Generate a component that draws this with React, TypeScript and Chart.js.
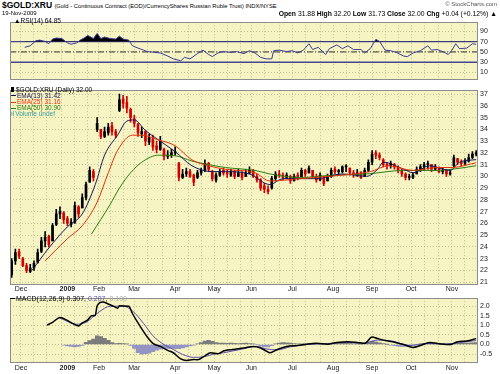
import React, { useEffect, useRef } from 'react';
import { Chart, registerables } from 'chart.js';

Chart.register(...registerables);

const FONT = '"Liberation Sans", Arial, sans-serif';
const PANEL_BG = '#f7f4c4';
const GRID = 'rgba(150,150,110,0.55)';
const X_MIN = -5.9;
const X_MAX = 246;

// trading-day index (0 = 1 Dec 2008)
const monthTickDay = [0, 25, 42, 61, 83, 104, 124, 146, 168, 189, 210, 232];
const monthLabels = ['Dec', '2009', 'Feb', 'Mar', 'Apr', 'May', 'Jun', 'Jul', 'Aug', 'Sep', 'Oct', 'Nov'];
const gridDay = [0, 7, 14, 22, 29, 36, 42, 48, 55, 61, 68, 76, 83, 90, 97, 104, 111, 118, 124, 131, 139, 146, 153, 161, 168, 175, 182, 189, 196, 203, 210, 217, 225, 232, 239];

// price candles
const candleDay = [-5, -3, -1, 1, 3, 5, 7, 9, 11, 13, 15, 17, 19, 21, 23, 25, 27, 29, 31, 33, 35, 37, 39, 41, 43, 45, 47, 49, 51, 53, 55, 57, 59, 61, 63, 65, 67, 69, 71, 73, 75, 77, 79, 81, 83, 85, 87, 89, 91, 93, 95, 97, 99, 101, 103, 105, 107, 109, 111, 113, 115, 117, 119, 121, 123, 125, 127, 129, 131, 133, 135, 137, 139, 141, 143, 145, 147, 149, 151, 153, 155, 157, 159, 161, 163, 165, 167, 169, 171, 173, 175, 177, 179, 181, 183, 185, 187, 189, 191, 193, 195, 197, 199, 201, 203, 205, 207, 209, 211, 213, 215, 217, 219, 221, 223, 225, 227, 229, 231, 233, 235, 237, 239, 241, 243, 245];
const openVal = [21.6, 22.8, 23.6, 23.0, 22.4, 21.9, 22.2, 22.7, 23.6, 24.5, 24.9, 24.5, 25.9, 26.8, 26.9, 26.4, 25.9, 26.1, 27.4, 27.3, 28.2, 29.5, 30.4, 34.0, 34.0, 33.4, 33.7, 34.3, 33.8, 35.6, 36.6, 36.3, 35.7, 34.9, 34.4, 33.6, 33.8, 32.9, 33.2, 32.6, 32.3, 32.3, 31.7, 31.8, 32.0, 31.1, 29.9, 30.2, 30.4, 30.1, 29.9, 30.3, 30.5, 31.1, 30.4, 29.7, 30.1, 30.5, 30.3, 30.1, 30.4, 30.0, 30.3, 30.0, 30.3, 30.5, 30.0, 29.7, 29.2, 28.9, 29.0, 29.8, 30.2, 30.1, 29.9, 30.0, 29.6, 30.1, 29.9, 30.5, 30.3, 30.5, 30.0, 29.7, 29.9, 29.6, 30.0, 30.6, 30.4, 30.4, 30.8, 30.7, 30.3, 30.1, 30.3, 30.0, 30.5, 31.2, 32.0, 31.8, 31.4, 31.0, 30.9, 31.0, 30.8, 30.5, 30.2, 29.9, 29.9, 30.2, 30.6, 30.8, 31.0, 31.0, 30.6, 30.7, 30.4, 30.5, 30.2, 30.9, 31.5, 31.2, 31.1, 31.3, 31.6, 31.88];
const highVal = [23.0, 23.8, 23.8, 23.1, 22.6, 22.5, 22.8, 23.8, 24.8, 25.3, 25.0, 26.0, 27.2, 27.4, 27.0, 26.6, 26.4, 27.8, 27.5, 28.5, 29.5, 30.8, 30.6, 35.0, 34.0, 34.2, 34.5, 34.6, 34.0, 37.0, 36.9, 36.8, 35.8, 35.2, 34.5, 34.2, 33.9, 33.6, 33.5, 33.0, 33.4, 32.4, 32.2, 32.3, 32.5, 31.2, 30.6, 30.7, 30.6, 30.2, 30.5, 30.7, 31.4, 31.2, 30.5, 30.3, 30.6, 30.7, 30.5, 30.6, 30.5, 30.6, 30.4, 30.6, 30.8, 30.6, 30.2, 29.8, 29.4, 29.2, 30.0, 30.4, 30.5, 30.3, 30.3, 30.1, 30.2, 30.3, 30.7, 30.6, 30.9, 30.5, 30.2, 30.3, 30.0, 30.2, 30.7, 30.8, 30.6, 30.9, 31.0, 30.7, 30.5, 30.6, 30.4, 30.7, 31.4, 32.2, 32.2, 32.0, 31.5, 31.2, 31.3, 31.1, 30.9, 30.6, 30.3, 30.2, 30.3, 30.8, 31.0, 31.2, 31.3, 31.0, 31.0, 30.8, 30.7, 30.6, 30.6, 31.8, 31.5, 31.4, 31.5, 31.9, 32.1, 32.2];
const lowVal = [21.4, 22.5, 23.0, 22.3, 21.8, 21.8, 22.0, 22.6, 23.5, 24.0, 24.0, 24.5, 25.8, 26.4, 26.0, 25.8, 25.7, 26.0, 26.5, 27.3, 28.0, 29.5, 29.6, 33.8, 33.2, 33.3, 33.5, 33.5, 33.3, 35.5, 35.8, 35.4, 34.6, 34.2, 33.4, 33.3, 32.6, 32.7, 32.2, 32.0, 32.2, 31.4, 31.5, 31.6, 31.8, 29.6, 29.8, 30.0, 29.9, 29.2, 29.8, 30.1, 30.4, 30.4, 29.6, 29.5, 30.0, 30.1, 29.9, 30.0, 29.8, 30.0, 29.7, 30.0, 30.2, 29.9, 29.5, 28.8, 28.6, 28.5, 28.9, 29.6, 29.9, 29.7, 29.8, 29.4, 29.6, 29.7, 29.9, 30.0, 30.3, 29.9, 29.5, 29.6, 29.2, 29.6, 29.9, 30.2, 30.2, 30.3, 30.4, 30.1, 29.9, 30.0, 29.8, 30.0, 30.4, 31.0, 31.5, 31.4, 30.8, 30.6, 30.7, 30.6, 30.3, 30.0, 29.7, 29.7, 29.8, 30.2, 30.4, 30.5, 30.6, 30.4, 30.5, 30.3, 30.2, 30.0, 30.1, 30.8, 31.0, 30.9, 31.0, 31.2, 31.5, 31.73];
const closeVal = [22.8, 23.5, 23.2, 22.4, 22.0, 22.2, 22.6, 23.5, 24.5, 24.8, 24.2, 25.8, 26.8, 27.0, 26.3, 26.0, 26.1, 27.5, 26.8, 28.2, 29.3, 30.5, 29.9, 34.5, 33.4, 33.8, 34.2, 33.8, 33.5, 36.5, 36.2, 35.8, 35.0, 34.5, 33.7, 33.8, 33.0, 33.3, 32.5, 32.3, 33.0, 31.7, 31.8, 32.0, 32.1, 29.9, 30.2, 30.4, 30.0, 29.5, 30.3, 30.5, 31.1, 30.6, 29.8, 30.1, 30.4, 30.3, 30.2, 30.4, 30.0, 30.3, 29.9, 30.3, 30.5, 30.0, 29.7, 29.0, 28.9, 28.7, 29.8, 30.2, 30.1, 29.9, 30.1, 29.6, 30.0, 29.9, 30.5, 30.2, 30.7, 30.0, 29.7, 30.1, 29.4, 30.0, 30.5, 30.4, 30.4, 30.8, 30.8, 30.3, 30.2, 30.3, 29.9, 30.5, 31.2, 31.9, 31.8, 31.6, 31.0, 30.9, 31.1, 30.8, 30.5, 30.2, 29.9, 30.0, 30.1, 30.6, 30.8, 31.0, 31.1, 30.6, 30.8, 30.4, 30.5, 30.2, 30.3, 31.6, 31.2, 31.1, 31.3, 31.6, 31.9, 32.0];

// moving averages
const ema13Day = [6, 15, 25, 33, 40, 45, 52, 57, 61, 67, 74, 83, 92, 103, 110, 123, 134, 141, 159, 173, 186, 192, 195, 206, 211, 220, 231, 236, 245];
const ema13Val = [22.0, 23.9, 25.7, 26.8, 29.3, 31.8, 33.5, 34.7, 34.8, 33.9, 33.1, 32.1, 30.9, 30.4, 30.4, 30.2, 29.3, 29.8, 29.8, 30.2, 30.0, 30.6, 31.2, 30.6, 30.3, 30.9, 30.5, 31.2, 31.42];
const ema25Day = [13, 25, 33, 41, 47, 52, 60, 65, 74, 83, 92, 101, 110, 126, 134, 150, 173, 188, 198, 211, 224, 232, 245];
const ema25Val = [22.8, 24.7, 25.8, 27.8, 30.3, 32.2, 33.5, 33.5, 33.1, 32.6, 31.4, 30.9, 30.6, 30.3, 29.6, 29.8, 30.1, 30.4, 30.9, 30.5, 30.75, 30.75, 31.16];
const ema50Day = [38, 48, 53, 59, 65, 74, 83, 92, 101, 110, 126, 134, 150, 168, 186, 206, 224, 232, 245];
const ema50Val = [25.1, 27.6, 29.0, 30.3, 31.2, 31.8, 31.75, 31.3, 31.0, 30.75, 30.5, 30.2, 29.9, 30.1, 30.2, 30.5, 30.5, 30.6, 30.9];
const priceTicks = [21, 22, 23, 24, 25, 26, 27, 28, 29, 30, 31, 32, 33, 34, 35, 36, 37];

// RSI(14)
const rsiDay = [2, 5, 8, 10, 13, 15, 17, 19, 22, 25, 27, 30, 32, 34, 36, 39, 41, 43, 45, 48, 51, 53, 55, 58, 60, 63, 66, 68, 71, 75, 79, 82, 86, 88, 91, 95, 98, 101, 103, 106, 109, 113, 116, 120, 123, 126, 129, 132, 135, 136, 139, 143, 146, 149, 152, 155, 157, 160, 164, 166, 170, 173, 176, 179, 183, 185, 188, 191, 193, 196, 199, 202, 206, 208, 211, 215, 219, 221, 224, 227, 230, 232, 234, 236, 240, 243, 245];
const rsiVal = [59, 62, 71.7, 73, 70.5, 66, 75, 77, 76, 67.6, 65, 67.6, 73.4, 77, 82, 76, 86, 76, 79, 76, 75, 80.7, 75, 73, 62, 57.5, 53.5, 50.7, 49.7, 48, 42, 36.6, 32.7, 39.5, 36.6, 46.8, 53.5, 45, 41, 48, 50.7, 49, 50.7, 46.8, 52.4, 48, 39.5, 36.6, 36.6, 52.4, 53.5, 50.7, 52.4, 48, 53.5, 66, 54.7, 59, 45, 56.4, 63.7, 56.4, 62, 54.7, 54.7, 48, 56.4, 74.4, 70.5, 53.5, 52.4, 49, 42, 41, 48, 52.4, 62, 53.5, 54.7, 50.7, 45, 53.5, 66, 56.4, 57.5, 66, 64.85];
const rsiTicks = [10, 30, 50, 70, 90];
const rsiLevels = [70, 50, 30];

// MACD(12,26,9)
const macdDay = [14, 17, 21, 25, 28, 31, 33, 36, 38, 40, 41, 44, 47, 50, 52, 53, 58, 60, 64, 68, 71, 75, 79, 82, 86, 89, 93, 95, 99, 102, 106, 109, 114, 120, 125, 129, 132, 134, 138, 143, 149, 154, 159, 165, 170, 176, 181, 185, 189, 192, 195, 200, 206, 211, 215, 220, 226, 231, 235, 240, 245];
const macdVal = [1.01, 1.16, 1.41, 1.26, 1.09, 0.97, 1.13, 1.29, 1.5, 1.53, 2.02, 2.22, 2.12, 1.99, 1.9, 2.02, 2.0, 1.62, 0.97, 0.39, 0.06, -0.1, -0.31, -0.43, -0.75, -0.83, -0.78, -0.8, -0.59, -0.43, -0.48, -0.34, -0.26, -0.18, -0.1, -0.18, -0.34, -0.43, -0.26, -0.1, -0.05, 0.02, 0.06, 0.02, 0.11, 0.15, 0.11, 0.06, 0.39, 0.31, 0.23, 0.15, 0, -0.15, -0.05, 0.1, 0.03, 0, 0.15, 0.18, 0.307];
const signalDay = [21, 30, 35, 42, 48, 55, 60, 66, 71, 76, 82, 87, 93, 98, 103, 109, 118, 127, 132, 138, 145, 154, 165, 175, 184, 192, 200, 209, 218, 229, 236, 245];
const signalVal = [1.38, 1.06, 1.16, 1.7, 2.0, 2.0, 1.76, 1.1, 0.46, 0.06, -0.26, -0.52, -0.67, -0.65, -0.52, -0.43, -0.26, -0.1, -0.23, -0.28, -0.12, 0, 0.05, 0.11, 0.06, 0.23, 0.18, -0.05, 0.05, 0.03, 0.1, 0.207];
const histDay = [23, 25, 27, 29, 31, 33, 35, 37, 39, 41, 43, 45, 47, 49, 51, 53, 55, 57, 59, 61, 63, 65, 67, 69, 71, 73, 75, 77, 79, 81, 83, 85, 87, 89, 91, 93, 95, 97, 99, 101, 103, 105, 107, 109, 111, 113, 115, 117, 119, 121, 123, 125, 127, 129, 131, 133, 135, 137, 139, 141, 143, 145, 147, 149, 151, 153, 155, 157, 159, 161, 163, 165, 167, 169, 171, 173, 175, 177, 179, 181, 183, 185, 187, 189, 191, 193, 195, 197, 199, 201, 203, 205, 207, 209, 211, 213, 215, 217, 219, 221, 223, 225, 227, 229, 231, 233, 235, 237, 239, 241, 243, 245];
const histVal = [-0.03, -0.08, -0.1, -0.12, -0.1, -0.05, 0.12, 0.2, 0.28, 0.45, 0.42, 0.32, 0.22, 0.1, 0.05, 0.06, 0.05, 0.03, -0.05, -0.2, -0.42, -0.5, -0.48, -0.45, -0.38, -0.3, -0.24, -0.21, -0.2, -0.2, -0.22, -0.22, -0.18, -0.12, -0.08, -0.04, 0.04, 0.1, 0.18, 0.22, 0.16, 0.1, 0.07, 0.08, 0.06, 0.07, 0.06, 0.05, 0.06, 0.07, 0.05, 0.03, -0.02, -0.08, -0.11, -0.12, -0.06, 0.03, 0.08, 0.1, 0.09, 0.07, 0.05, 0.04, 0.03, 0.04, 0.05, 0.04, 0.03, 0.03, 0.02, 0.03, 0.05, 0.06, 0.07, 0.07, 0.06, 0.05, 0.04, 0.03, 0.02, 0.05, 0.12, 0.16, 0.13, 0.09, 0.05, 0.01, -0.03, -0.06, -0.09, -0.1, -0.1, -0.08, -0.05, -0.02, 0.02, 0.05, 0.06, 0.05, 0.04, 0.03, 0.02, 0, -0.02, 0.03, 0.06, 0.07, 0.08, 0.08, 0.09, 0.1];
const macdTicks = [-0.5, 0, 0.5, 1, 1.5, 2];

const pts = (xs: number[], ys: number[]) => xs.map((x, i) => ({ x, y: ys[i] }));

const panelPlugin = {
  id: 'panel',
  beforeDraw(chart: any) {
    const { ctx, chartArea: a } = chart;
    ctx.save();
    ctx.fillStyle = PANEL_BG;
    ctx.fillRect(a.left, a.top, a.right - a.left, a.bottom - a.top);
    ctx.restore();
  },
  afterDraw(chart: any) {
    const { ctx, chartArea: a } = chart;
    ctx.save();
    ctx.strokeStyle = '#8c8c8c';
    ctx.lineWidth = 1;
    ctx.strokeRect(Math.round(a.left) + 0.5, Math.round(a.top) + 0.5, Math.round(a.right - a.left) - 1, Math.round(a.bottom - a.top) - 1);
    ctx.restore();
  },
};

function xScales(showLabels: boolean, h: number, pad: number) {
  return {
    x: {
      type: 'linear', min: X_MIN, max: X_MAX, offset: false, position: 'bottom',
      grid: { display: false, drawTicks: false, offset: false },
      border: { display: false },
      afterBuildTicks: (ax: any) => { ax.ticks = monthTickDay.map((v) => ({ value: v })); },
      afterFit: (ax: any) => { ax.height = h; },
      ticks: {
        display: showLabels, autoSkip: false, maxRotation: 0, minRotation: 0, padding: pad, color: '#1a1a1a',
        font: (c: any) => ({ family: FONT, size: 7, weight: c.tick && c.tick.value === 25 ? 'bold' : 'normal' }),
        callback: (v: number) => { const i = monthTickDay.indexOf(v); return i >= 0 ? monthLabels[i] : ''; },
      },
    },
    xg: {
      type: 'linear', min: X_MIN, max: X_MAX, offset: false, position: 'bottom',
      grid: { color: GRID, lineWidth: 1, drawTicks: false, offset: false },
      border: { display: false, dash: [1, 2] },
      afterBuildTicks: (ax: any) => { ax.ticks = gridDay.map((v) => ({ value: v })); },
      afterFit: (ax: any) => { ax.height = 0; },
      ticks: { display: false },
    },
  };
}

function yScale(min: number, max: number, ticks: number[], fmt: (v: number) => string) {
  return {
    position: 'right', min, max,
    grid: { color: GRID, lineWidth: 1, drawTicks: false },
    border: { display: false, dash: [1, 2] },
    afterBuildTicks: (ax: any) => { ax.ticks = ticks.map((v) => ({ value: v })); },
    afterFit: (ax: any) => { ax.width = 22; },
    ticks: { padding: 2, color: '#1a1a1a', font: { family: FONT, size: 7 }, callback: (v: number) => fmt(v) },
  };
}

const baseOptions = (scales: any) => ({
  responsive: false,
  animation: false,
  devicePixelRatio: 1,
  events: [],
  layout: { padding: { left: 10, right: 0, top: 2, bottom: 0 } },
  plugins: { legend: { display: false }, tooltip: { enabled: false }, title: { display: false } },
  scales,
});

function rsiConfig(): any {
  const levelColor = ['#464690', '#333333', '#464690'];
  return {
    type: 'line',
    data: {
      datasets: [
        {
          data: pts(rsiDay, rsiVal), borderColor: '#3c3c98', borderWidth: 1, pointRadius: 0, tension: 0,
          fill: { target: { value: 70 }, above: '#000000', below: 'rgba(0,0,0,0)' }, order: 0,
        },
        ...rsiLevels.map((lv, i) => ({
          data: [{ x: X_MIN, y: lv }, { x: X_MAX, y: lv }], borderColor: levelColor[i], borderWidth: i === 1 ? 1 : 1.3,
          borderDash: i === 1 ? [6, 2, 1, 2] : [], pointRadius: 0, fill: false, order: 1,
        })),
      ],
    },
    options: baseOptions({ ...xScales(false, 0, 0), y: yScale(-4.1, 107.8, rsiTicks, (v) => String(v)) }),
    plugins: [panelPlugin],
  };
}

function priceConfig(): any {
  const col = (i: number) => (closeVal[i] < openVal[i] ? '#d40000' : '#000000');
  return {
    type: 'line',
    data: {
      datasets: [
        {
          type: 'bar', data: candleDay.map((d, i) => ({ x: d, y: [lowVal[i], highVal[i]] })),
          backgroundColor: (c: any) => col(c.dataIndex), barThickness: 1, grouped: false, borderWidth: 0, order: 3,
        },
        {
          type: 'bar', data: candleDay.map((d, i) => ({ x: d, y: [openVal[i], closeVal[i]] })),
          backgroundColor: (c: any) => col(c.dataIndex), barThickness: 2, minBarLength: 1, grouped: false, borderWidth: 0, order: 2,
        },
        { data: pts(ema50Day, ema50Val), borderColor: '#2d7d12', borderWidth: 1, pointRadius: 0, cubicInterpolationMode: 'monotone', fill: false, order: 1 },
        { data: pts(ema25Day, ema25Val), borderColor: '#e2330c', borderWidth: 1, pointRadius: 0, cubicInterpolationMode: 'monotone', fill: false, order: 0 },
        { data: pts(ema13Day, ema13Val), borderColor: '#14145e', borderWidth: 1, pointRadius: 0, cubicInterpolationMode: 'monotone', fill: false, order: 0 },
      ],
    },
    options: baseOptions({ ...xScales(true, 9, 0), y: yScale(20.75, 37.33, priceTicks, (v) => String(v)) }),
    plugins: [panelPlugin],
  };
}

function macdConfig(): any {
  return {
    type: 'line',
    data: {
      datasets: [
        {
          type: 'bar', data: pts(histDay, histVal),
          backgroundColor: histVal.map((v) => (v >= 0 ? '#7c7c7c' : '#9494c4')),
          barPercentage: 1, categoryPercentage: 1, borderWidth: 0, order: 3,
        },
        { data: pts(signalDay, signalVal), borderColor: '#5b4fb0', borderWidth: 1, pointRadius: 0, cubicInterpolationMode: 'monotone', fill: false, order: 1 },
        { data: pts(macdDay, macdVal), borderColor: '#000000', borderWidth: 1.5, pointRadius: 0, cubicInterpolationMode: 'monotone', fill: false, order: 0 },
      ],
    },
    options: baseOptions({ ...xScales(true, 11, 1), y: yScale(-0.966, 2.42, macdTicks, (v) => v.toFixed(1)) }),
    plugins: [panelPlugin],
  };
}

function Panel({ top, height, make }: { top: number; height: number; make: () => any }) {
  const ref = useRef<HTMLCanvasElement | null>(null);
  useEffect(() => {
    if (!ref.current) return;
    const chart = new Chart(ref.current, make());
    return () => chart.destroy();
  }, []);
  return (
    <canvas ref={ref} width={500} height={height}
      style={{ position: 'absolute', left: 0, top, width: 500, height }} />
  );
}

const small = (size: number, extra: any = {}) => ({ fontFamily: FONT, fontSize: size, whiteSpace: 'nowrap' as const, ...extra });

function Dash({ color }: { color: string }) {
  return <span style={{ display: 'inline-block', width: 5, height: 1, background: color, verticalAlign: 'middle', marginRight: 1 }} />;
}

export default function App() {
  return (
    <div style={{ position: 'absolute', left: 0, top: 0, width: 500, height: 374, background: '#ffffff', overflow: 'hidden' }}>
      <Panel top={16} height={70} make={rsiConfig} />
      <Panel top={84} height={210} make={priceConfig} />
      <Panel top={292} height={82} make={macdConfig} />

      {/* header */}
      <div style={small(8.5, { position: 'absolute', left: 2, top: 0, lineHeight: '10px', fontWeight: 'bold', color: '#000' })}>
        $GOLD:XRU <span style={{ fontWeight: 'normal', fontSize: 5.8 }}>(Gold - Continuous Contract (EOD)/CurrencyShares Russian Ruble Trust) INDX/NYSE</span>
      </div>
      <div style={small(6, { position: 'absolute', left: 2, top: 10, lineHeight: '7px', color: '#000' })}>19-Nov-2009</div>
      <div style={small(6, { position: 'absolute', right: 3, top: 1, lineHeight: '7px', color: '#555' })}>© StockCharts.com</div>
      <div style={small(6.8, { position: 'absolute', right: 3, top: 10, lineHeight: '7px', color: '#000' })}>
        <b>Open</b> 31.88 <b>High</b> 32.20 <b>Low</b> 31.73 <b>Close</b> 32.00 <b>Chg</b> +0.04 (+0.12%) ▲
      </div>

      {/* RSI legend */}
      <div style={small(6.5, { position: 'absolute', left: 14, top: 17, lineHeight: '7px', color: '#000' })}>▲RSI(14) 64.85</div>

      {/* price legend */}
      <div style={small(6.5, { position: 'absolute', left: 11, top: 86.5, lineHeight: '6.2px' })}>
        <div style={{ color: '#000' }}><span style={{ display: 'inline-block', width: 3, height: 5, background: '#000', marginRight: 2, verticalAlign: 'middle' }} />$GOLD:XRU (Daily) 32.00</div>
        <div style={{ color: '#14145e' }}><Dash color="#14145e" />EMA(13) 31.42</div>
        <div style={{ color: '#e2330c' }}><Dash color="#e2330c" />EMA(25) 31.16</div>
        <div style={{ color: '#2d7d12' }}><Dash color="#2d7d12" />EMA(50) 30.90</div>
        <div style={{ color: '#3a9a9a' }}><span style={{ marginRight: 1 }}>ıl</span>Volume undef</div>
      </div>

      {/* MACD legend */}
      <div style={small(7, { position: 'absolute', left: 10, top: 294.5, lineHeight: '7px', color: '#000' })}>
        <Dash color="#000" />MACD(12,26,9) 0.307, <span style={{ color: '#5b4fb0' }}>0.207</span>, <span style={{ color: '#aaaaaa' }}>0.100</span>
      </div>
    </div>
  );
}
